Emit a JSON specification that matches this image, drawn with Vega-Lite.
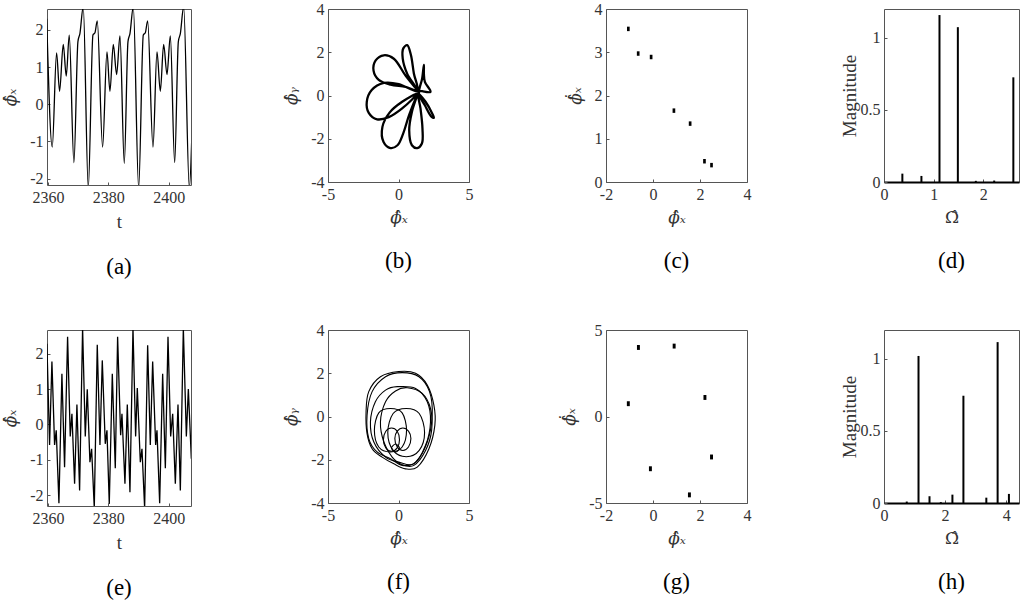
{
"$schema": "https://vega.github.io/schema/vega-lite/v6.json",
"padding": {"left": 1, "top": 0, "right": 0, "bottom": 0},
"background": "white",
"datasets": {
"a": [
{"t":2359.6,"v":2.30},{"t":2361.44,"v":-1.15},{"t":2362.87,"v":1.38},{"t":2363.87,"v":0.35},{"t":2365.08,"v":1.61},{"t":2366.08,"v":0.76},{"t":2367.07,"v":1.86},{"t":2368.62,"v":-1.57},{"t":2369.94,"v":1.68},{"t":2370.6,"v":1.90},{"t":2371.71,"v":2.62},{"t":2373.37,"v":-2.25},{"t":2374.92,"v":1.86},{"t":2375.58,"v":1.92},{"t":2376.35,"v":2.24},{"t":2378.12,"v":-1.15},{"t":2379.56,"v":1.41},{"t":2380.55,"v":0.35},{"t":2381.66,"v":1.61},{"t":2382.76,"v":0.80},{"t":2383.87,"v":1.84},{"t":2385.30,"v":-1.59},{"t":2386.52,"v":1.68},{"t":2387.18,"v":1.90},{"t":2388.29,"v":2.62},{"t":2390.06,"v":-2.25},{"t":2391.60,"v":1.86},{"t":2392.27,"v":1.92},{"t":2393.04,"v":2.24},{"t":2394.81,"v":-1.15},{"t":2396.13,"v":1.41},{"t":2397.24,"v":0.35},{"t":2398.34,"v":1.61},{"t":2399.45,"v":0.80},{"t":2400.55,"v":1.84},{"t":2401.99,"v":-1.57},{"t":2403.20,"v":1.68},{"t":2403.87,"v":1.90},{"t":2404.97,"v":2.62},{"t":2406.85,"v":-2.25},{"t":2407.70,"v":-0.80}
],
"e": [
{"t":2359.67,"v":2.28},{"t":2360.55,"v":-0.58},{"t":2361.33,"v":1.78},{"t":2362.21,"v":-0.58},{"t":2362.76,"v":-0.17},{"t":2363.65,"v":-2.23},{"t":2364.64,"v":1.43},{"t":2365.52,"v":-1.21},{"t":2366.52,"v":2.48},{"t":2367.40,"v":-0.34},{"t":2367.96,"v":0.30},{"t":2368.84,"v":-1.68},{"t":2369.61,"v":0.56},{"t":2370.50,"v":-1.87},{"t":2371.49,"v":2.72},{"t":2372.38,"v":-0.34},{"t":2373.04,"v":0.99},{"t":2373.92,"v":-1.07},{"t":2374.48,"v":-0.69},{"t":2375.36,"v":-2.36},{"t":2376.35,"v":2.25},{"t":2377.24,"v":-0.58},{"t":2378.01,"v":1.81},{"t":2379.00,"v":-0.55},{"t":2379.56,"v":-0.17},{"t":2380.33,"v":-2.25},{"t":2381.33,"v":1.43},{"t":2382.32,"v":-1.24},{"t":2383.09,"v":2.48},{"t":2384.09,"v":-0.31},{"t":2384.53,"v":0.30},{"t":2385.52,"v":-1.68},{"t":2386.30,"v":0.56},{"t":2387.18,"v":-1.92},{"t":2388.18,"v":2.72},{"t":2389.06,"v":-0.34},{"t":2389.61,"v":1.03},{"t":2390.61,"v":-1.07},{"t":2391.16,"v":-0.69},{"t":2392.04,"v":-2.36},{"t":2393.04,"v":2.24},{"t":2393.92,"v":-0.58},{"t":2394.70,"v":1.78},{"t":2395.69,"v":-0.58},{"t":2396.13,"v":-0.17},{"t":2397.02,"v":-2.23},{"t":2398.01,"v":1.43},{"t":2398.90,"v":-1.24},{"t":2399.78,"v":2.48},{"t":2400.66,"v":-0.34},{"t":2401.33,"v":0.30},{"t":2402.21,"v":-1.68},{"t":2403.09,"v":0.56},{"t":2403.87,"v":-1.87},{"t":2404.86,"v":2.72},{"t":2405.86,"v":-0.34},{"t":2406.52,"v":1.00},{"t":2407.51,"v":-0.97}
],
"b": [
{"i":0,"x":1.33,"y":0.25},{"i":1,"x":0.50,"y":0.92},{"i":2,"x":-0.33,"y":1.70},{"i":3,"x":-1.04,"y":1.86},{"i":4,"x":-1.62,"y":1.62},{"i":5,"x":-1.77,"y":1.15},{"i":6,"x":-1.40,"y":0.72},{"i":7,"x":-0.57,"y":0.50},{"i":8,"x":0.50,"y":0.40},{"i":9,"x":1.33,"y":0.25},
{"i":10,"x":1.09,"y":1.02},{"i":11,"x":0.88,"y":1.87},{"i":12,"x":0.62,"y":2.33},{"i":13,"x":0.34,"y":2.18},{"i":14,"x":0.30,"y":1.71},{"i":15,"x":0.62,"y":1.00},{"i":16,"x":1.33,"y":0.20},
{"i":17,"x":0.02,"y":0.53},{"i":18,"x":-1.04,"y":0.58},{"i":19,"x":-1.90,"y":0.25},{"i":20,"x":-2.25,"y":-0.29},{"i":21,"x":-2.11,"y":-0.80},{"i":22,"x":-1.52,"y":-1.10},{"i":23,"x":-0.69,"y":-1.00},{"i":24,"x":0.26,"y":-0.60},{"i":25,"x":1.33,"y":0.09},
{"i":26,"x":0.26,"y":-0.29},{"i":27,"x":-0.62,"y":-0.78},{"i":28,"x":-1.14,"y":-1.45},{"i":29,"x":-1.06,"y":-2.15},{"i":30,"x":-0.57,"y":-2.43},{"i":31,"x":-0.07,"y":-2.30},{"i":32,"x":0.33,"y":-1.76},{"i":33,"x":0.75,"y":-0.91},{"i":34,"x":1.33,"y":0.02},
{"i":35,"x":0.95,"y":-0.76},{"i":36,"x":0.76,"y":-1.61},{"i":37,"x":0.95,"y":-2.30},{"i":38,"x":1.33,"y":-2.43},{"i":39,"x":1.66,"y":-2.22},{"i":40,"x":1.70,"y":-1.53},{"i":41,"x":1.56,"y":-0.60},{"i":42,"x":1.40,"y":0.09},
{"i":43,"x":1.92,"y":-0.29},{"i":44,"x":2.39,"y":-0.83},{"i":45,"x":2.51,"y":-1.03},{"i":46,"x":2.35,"y":-0.99},{"i":47,"x":1.87,"y":-0.45},{"i":48,"x":1.45,"y":0.09},
{"i":49,"x":1.68,"y":0.79},{"i":50,"x":1.80,"y":1.41},{"i":51,"x":1.80,"y":1.02},{"i":52,"x":1.87,"y":0.63},{"i":53,"x":2.27,"y":0.17},{"i":54,"x":1.68,"y":0.20},{"i":55,"x":1.33,"y":0.25}
],
"f": [
{"k":1,"i":0,"x":0.02,"y":2.08},{"k":1,"i":1,"x":1.21,"y":2.0},{"k":1,"i":2,"x":2.04,"y":1.46},{"k":1,"i":3,"x":2.51,"y":0.53},{"k":1,"i":4,"x":2.58,"y":-0.40},{"k":1,"i":5,"x":2.16,"y":-1.49},{"k":1,"i":6,"x":1.33,"y":-2.34},{"k":1,"i":7,"x":0.50,"y":-2.42},{"k":1,"i":8,"x":-0.33,"y":-2.19},{"k":1,"i":9,"x":-1.16,"y":-1.88},{"k":1,"i":10,"x":-1.87,"y":-1.49},{"k":1,"i":11,"x":-2.23,"y":-0.79},{"k":1,"i":12,"x":-2.30,"y":0.22},{"k":1,"i":13,"x":-2.11,"y":1.15},{"k":1,"i":14,"x":-1.28,"y":1.84},
{"k":2,"i":0,"x":0.26,"y":2.03},{"k":2,"i":1,"x":1.45,"y":1.84},{"k":2,"i":2,"x":2.20,"y":1.15},{"k":2,"i":3,"x":2.39,"y":0.06},{"k":2,"i":4,"x":2.04,"y":-1.18},{"k":2,"i":5,"x":1.21,"y":-2.11},{"k":2,"i":6,"x":0.26,"y":-2.26},{"k":2,"i":7,"x":-0.57,"y":-1.95},{"k":2,"i":8,"x":-1.52,"y":-1.64},{"k":2,"i":9,"x":-2.11,"y":-1.02},{"k":2,"i":10,"x":-2.23,"y":0.06},{"k":2,"i":11,"x":-1.87,"y":1.15},{"k":2,"i":12,"x":-0.92,"y":1.84},
{"k":3,"i":0,"x":-0.09,"y":1.38},{"k":3,"i":1,"x":1.21,"y":1.30},{"k":3,"i":2,"x":2.04,"y":0.68},{"k":3,"i":3,"x":2.27,"y":-0.25},{"k":3,"i":4,"x":1.92,"y":-1.33},{"k":3,"i":5,"x":1.09,"y":-2.19},{"k":3,"i":6,"x":0.02,"y":-2.11},{"k":3,"i":7,"x":-0.92,"y":-1.88},{"k":3,"i":8,"x":-1.75,"y":-1.18},{"k":3,"i":9,"x":-1.99,"y":-0.25},{"k":3,"i":10,"x":-1.64,"y":0.68},{"k":3,"i":11,"x":-0.92,"y":1.22},
{"k":4,"i":0,"x":0.62,"y":1.33},{"k":4,"i":1,"x":1.68,"y":1.07},{"k":4,"i":2,"x":2.27,"y":0.37},{"k":4,"i":3,"x":2.35,"y":-0.64},{"k":4,"i":4,"x":1.92,"y":-1.57},{"k":4,"i":5,"x":1.09,"y":-2.26},{"k":4,"i":6,"x":0.26,"y":-2.23},{"k":4,"i":7,"x":-0.45,"y":-1.88},{"k":4,"i":8,"x":-1.04,"y":-1.18},{"k":4,"i":9,"x":-1.28,"y":-0.25},{"k":4,"i":10,"x":-0.92,"y":0.68},{"k":4,"i":11,"x":-0.21,"y":1.18},
{"k":5,"i":0,"x":-0.57,"y":0.37},{"k":5,"i":1,"x":0.26,"y":0.17},{"k":5,"i":2,"x":0.57,"y":-0.64},{"k":5,"i":3,"x":0.26,"y":-1.41},{"k":5,"i":4,"x":-0.57,"y":-1.64},{"k":5,"i":5,"x":-1.40,"y":-1.41},{"k":5,"i":6,"x":-1.71,"y":-0.64},{"k":5,"i":7,"x":-1.40,"y":0.17},
{"k":6,"i":0,"x":0.55,"y":0.37},{"k":6,"i":1,"x":1.47,"y":0.14},{"k":6,"i":2,"x":1.85,"y":-0.74},{"k":6,"i":3,"x":1.47,"y":-1.57},{"k":6,"i":4,"x":0.55,"y":-1.86},{"k":6,"i":5,"x":-0.38,"y":-1.57},{"k":6,"i":6,"x":-0.76,"y":-0.74},{"k":6,"i":7,"x":-0.38,"y":0.14},
{"k":7,"i":0,"x":-0.50,"y":-0.53},{"k":7,"i":1,"x":-0.09,"y":-0.68},{"k":7,"i":2,"x":0.07,"y":-1.07},{"k":7,"i":3,"x":-0.09,"y":-1.45},{"k":7,"i":4,"x":-0.50,"y":-1.61},{"k":7,"i":5,"x":-0.90,"y":-1.45},{"k":7,"i":6,"x":-1.07,"y":-1.07},{"k":7,"i":7,"x":-0.90,"y":-0.68},
{"k":8,"i":0,"x":0.31,"y":-0.53},{"k":8,"i":1,"x":0.71,"y":-0.68},{"k":8,"i":2,"x":0.88,"y":-1.02},{"k":8,"i":3,"x":0.71,"y":-1.41},{"k":8,"i":4,"x":0.31,"y":-1.57},{"k":8,"i":5,"x":-0.09,"y":-1.41},{"k":8,"i":6,"x":-0.26,"y":-1.02},{"k":8,"i":7,"x":-0.09,"y":-0.68},
{"k":9,"i":0,"x":-0.21,"y":-1.27},{"k":9,"i":1,"x":0.07,"y":-1.46},{"k":9,"i":2,"x":-0.21,"y":-1.64},{"k":9,"i":3,"x":-0.50,"y":-1.46}
],
"c": [
{"x":-1.05,"y":3.54},{"x":-0.63,"y":2.97},{"x":-0.08,"y":2.89},{"x":0.89,"y":1.65},{"x":1.58,"y":1.35},{"x":2.19,"y":0.48},{"x":2.49,"y":0.39}
],
"g": [
{"x":-0.62,"y":3.99},{"x":0.90,"y":4.07},{"x":-1.05,"y":0.74},{"x":2.21,"y":1.10},{"x":-0.11,"y":-3.02},{"x":2.49,"y":-2.34},{"x":1.55,"y":-4.53}
],
"d": [
{"f":0.37,"m":0.058},{"f":0.754,"m":0.042},{"f":1.118,"m":1.158},{"f":1.488,"m":1.074},{"f":1.85,"m":0.008},{"f":2.22,"m":0.01},{"f":2.606,"m":0.726}
],
"h": [
{"f":0.745,"m":0.01},{"f":1.13,"m":1.02},{"f":1.49,"m":0.047},{"f":1.86,"m":0.006},{"f":2.24,"m":0.058},{"f":2.60,"m":0.744},{"f":3.35,"m":0.037},{"f":3.72,"m":1.116},{"f":4.09,"m":0.063}
]
},
"columns": 4,
"align": "each",
"bounds": "flush",
"spacing": {"row": 145, "column": 137},
"concat": [
{
"width": 144, "height": 176,
"data": {"name": "a"},
"mark": {"type": "line", "interpolate": "monotone", "clip": true, "color": "black", "strokeWidth": 1.3},
"encoding": {
"x": {"field": "t", "type": "quantitative", "scale": {"domain": [2359.7, 2407.4], "nice": false, "zero": false}, "axis": {"values": [2360, 2380, 2400], "title": "t", "labelExpr": "'' + datum.value"}},
"y": {"field": "v", "type": "quantitative", "scale": {"domain": [-2.17, 2.56], "nice": false, "zero": false}, "axis": {"values": [-2, -1, 0, 1, 2], "title": "ϕ̂ₓ", "titleFont": "DejaVu Serif", "titleFontSize": 17, "titleFontStyle": "italic", "labelExpr": "'' + datum.value"}}
},
"title": {"text": "(a)", "orient": "bottom"}
},
{
"width": 141, "height": 173,
"data": {"name": "b"},
"mark": {"type": "line", "interpolate": "catmull-rom", "clip": true, "color": "black", "strokeWidth": 2.3},
"encoding": {
"x": {"field": "x", "type": "quantitative", "scale": {"domain": [-5, 5], "nice": false, "zero": false}, "axis": {"values": [-5, 0, 5], "title": "ϕ̂ₓ", "titleFont": "DejaVu Serif", "titleFontSize": 17, "titleFontStyle": "italic", "labelExpr": "'' + datum.value"}},
"y": {"field": "y", "type": "quantitative", "scale": {"domain": [-4, 4], "nice": false, "zero": false}, "axis": {"values": [-4, -2, 0, 2, 4], "title": "ϕ̂ᵧ", "titleFont": "DejaVu Serif", "titleFontSize": 17, "titleFontStyle": "italic", "labelExpr": "'' + datum.value"}},
"order": {"field": "i", "type": "quantitative"}
},
"title": {"text": "(b)", "orient": "bottom"}
},
{
"width": 141, "height": 173,
"data": {"name": "c"},
"mark": {"type": "point", "filled": true, "opacity": 1, "color": "black", "size": 20, "shape": "M-0.6,-1L0.6,-1L0.6,1L-0.6,1Z"},
"encoding": {
"x": {"field": "x", "type": "quantitative", "scale": {"domain": [-2, 4], "nice": false, "zero": false}, "axis": {"values": [-2, 0, 2, 4], "title": "ϕ̂ₓ", "titleFont": "DejaVu Serif", "titleFontSize": 17, "titleFontStyle": "italic", "labelExpr": "'' + datum.value"}},
"y": {"field": "y", "type": "quantitative", "scale": {"domain": [0, 4], "nice": false, "zero": false}, "axis": {"values": [0, 1, 2, 3, 4], "title": "ϕ̂̇ₓ", "titleFont": "DejaVu Serif", "titleFontSize": 17, "titleFontStyle": "italic", "labelExpr": "'' + datum.value"}}
},
"title": {"text": "(c)", "orient": "bottom"}
},
{
"width": 135, "height": 173,
"data": {"name": "d"},
"mark": {"type": "rule", "color": "black", "strokeWidth": 2},
"encoding": {
"x": {"field": "f", "type": "quantitative", "scale": {"domain": [0, 2.72], "nice": false, "zero": false}, "axis": {"values": [0, 1, 2], "title": "Ω̂", "titleFont": "DejaVu Serif", "titleFontSize": 17, "domain": true, "domainColor": "black", "domainWidth": 2.2, "labelExpr": "'' + datum.value"}},
"y": {"field": "m", "type": "quantitative", "scale": {"domain": [0, 1.2], "nice": false}, "axis": {"values": [0, 0.5, 1], "title": "Magnitude", "titlePadding": 1, "labelExpr": "'' + datum.value"}},
"y2": {"datum": 0}
},
"title": {"text": "(d)", "orient": "bottom"}
},
{
"width": 144, "height": 176,
"data": {"name": "e"},
"mark": {"type": "line", "interpolate": "linear", "clip": true, "color": "black", "strokeWidth": 1.3},
"encoding": {
"x": {"field": "t", "type": "quantitative", "scale": {"domain": [2359.7, 2407.4], "nice": false, "zero": false}, "axis": {"values": [2360, 2380, 2400], "title": "t", "labelExpr": "'' + datum.value"}},
"y": {"field": "v", "type": "quantitative", "scale": {"domain": [-2.31, 2.67], "nice": false, "zero": false}, "axis": {"values": [-2, -1, 0, 1, 2], "title": "ϕ̂ₓ", "titleFont": "DejaVu Serif", "titleFontSize": 17, "titleFontStyle": "italic", "labelExpr": "'' + datum.value"}}
},
"title": {"text": "(e)", "orient": "bottom"}
},
{
"width": 141, "height": 173,
"data": {"name": "f"},
"mark": {"type": "line", "interpolate": "cardinal-closed", "clip": true, "color": "black", "strokeWidth": 1.1},
"encoding": {
"x": {"field": "x", "type": "quantitative", "scale": {"domain": [-5, 5], "nice": false, "zero": false}, "axis": {"values": [-5, 0, 5], "title": "ϕ̂ₓ", "titleFont": "DejaVu Serif", "titleFontSize": 17, "titleFontStyle": "italic", "labelExpr": "'' + datum.value"}},
"y": {"field": "y", "type": "quantitative", "scale": {"domain": [-4, 4], "nice": false, "zero": false}, "axis": {"values": [-4, -2, 0, 2, 4], "title": "ϕ̂ᵧ", "titleFont": "DejaVu Serif", "titleFontSize": 17, "titleFontStyle": "italic", "labelExpr": "'' + datum.value"}},
"detail": {"field": "k", "type": "nominal"},
"order": {"field": "i", "type": "quantitative"}
},
"title": {"text": "(f)", "orient": "bottom"}
},
{
"width": 141, "height": 173,
"data": {"name": "g"},
"mark": {"type": "point", "filled": true, "opacity": 1, "color": "black", "size": 24, "shape": "M-0.6,-1L0.6,-1L0.6,1L-0.6,1Z"},
"encoding": {
"x": {"field": "x", "type": "quantitative", "scale": {"domain": [-2, 4], "nice": false, "zero": false}, "axis": {"values": [-2, 0, 2, 4], "title": "ϕ̂ₓ", "titleFont": "DejaVu Serif", "titleFontSize": 17, "titleFontStyle": "italic", "labelExpr": "'' + datum.value"}},
"y": {"field": "y", "type": "quantitative", "scale": {"domain": [-5, 5], "nice": false, "zero": false}, "axis": {"values": [-5, 0, 5], "title": "ϕ̂̇ₓ", "titleFont": "DejaVu Serif", "titleFontSize": 17, "titleFontStyle": "italic", "labelExpr": "'' + datum.value"}}
},
"title": {"text": "(g)", "orient": "bottom"}
},
{
"width": 135, "height": 173,
"data": {"name": "h"},
"mark": {"type": "rule", "color": "black", "strokeWidth": 2},
"encoding": {
"x": {"field": "f", "type": "quantitative", "scale": {"domain": [0, 4.42], "nice": false, "zero": false}, "axis": {"values": [0, 2, 4], "title": "Ω̂", "titleFont": "DejaVu Serif", "titleFontSize": 17, "domain": true, "domainColor": "black", "domainWidth": 2.2, "labelExpr": "'' + datum.value"}},
"y": {"field": "m", "type": "quantitative", "scale": {"domain": [0, 1.2], "nice": false}, "axis": {"values": [0, 0.5, 1], "title": "Magnitude", "titlePadding": 1, "labelExpr": "'' + datum.value"}},
"y2": {"datum": 0}
},
"title": {"text": "(h)", "orient": "bottom"}
}
],
"config": {
"font": "Liberation Serif",
"view": {"stroke": "#555555", "strokeWidth": 1},
"axis": {"grid": false, "domain": false, "labelFont": "Liberation Serif", "labelFontSize": 16, "labelColor": "#333333", "titleFont": "Liberation Serif", "titleFontSize": 19, "titleFontWeight": "normal", "titleColor": "#333333", "tickColor": "#555555", "tickSize": -3, "labelPadding": 7, "titlePadding": 7, "labelFlush": false, "labelOverlap": false},
"axisY": {"titlePadding": 10},
"title": {"font": "Liberation Serif", "fontSize": 23, "fontWeight": "normal", "color": "#000000", "offset": 25}
}
}
